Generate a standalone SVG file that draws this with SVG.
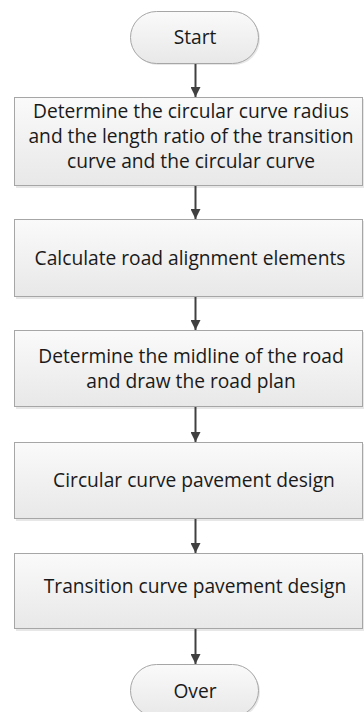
<svg xmlns="http://www.w3.org/2000/svg" width="364" height="712" viewBox="0 0 364 712">
<defs>
<linearGradient id="g" x1="0" y1="0" x2="0" y2="1">
<stop offset="0" stop-color="#fafafa"/>
<stop offset="1" stop-color="#e8e8e8"/>
</linearGradient>
<marker id="ah" viewBox="0 0 10 10" refX="10" refY="5" markerWidth="10" markerHeight="10" markerUnits="userSpaceOnUse" orient="auto">
<path d="M0,0 L10,5 L0,10 z" fill="#404040"/>
</marker>
</defs>
<style>
.shape{fill:url(#g);stroke:#a6a6a6;stroke-width:1}
.shadow{fill:#cfcfcf;opacity:0.5}
text{font-family:"Open Sans","Liberation Sans",sans-serif;font-size:19.2px;fill:#1a1a1a;text-anchor:middle}
.conn line{stroke:#404040;stroke-width:2;marker-end:url(#ah)}
</style>
<g id="start">
<rect class="shadow" x="132" y="13" width="128" height="52" rx="26"/>
<rect class="shape" x="130.5" y="11.5" width="128" height="52" rx="26"/>
<text x="195" y="44">Start</text>
</g>
<g id="step1">
<rect class="shadow" x="16" y="99" width="349" height="89"/>
<rect class="shape" x="14.5" y="97.5" width="348" height="88"/>
<text x="191" y="118">Determine the circular curve radius</text>
<text x="191" y="143">and the length ratio of the transition</text>
<text x="191" y="168">curve and the circular curve</text>
</g>
<g id="step2">
<rect class="shadow" x="16" y="221" width="349" height="78"/>
<rect class="shape" x="14.5" y="219.5" width="348" height="77"/>
<text x="190" y="265">Calculate road alignment elements</text>
</g>
<g id="step3">
<rect class="shadow" x="16" y="332" width="349" height="77"/>
<rect class="shape" x="14.5" y="330.5" width="348" height="76"/>
<text x="191" y="363">Determine the midline of the road</text>
<text x="191" y="388">and draw the road plan</text>
</g>
<g id="step4">
<rect class="shadow" x="16" y="444" width="349" height="77"/>
<rect class="shape" x="14.5" y="442.5" width="348" height="76"/>
<text x="194" y="487">Circular curve pavement design</text>
</g>
<g id="step5">
<rect class="shadow" x="16" y="555" width="349" height="76"/>
<rect class="shape" x="14.5" y="553.5" width="348" height="75"/>
<text x="195" y="593">Transition curve pavement design</text>
</g>
<g id="over">
<rect class="shadow" x="132" y="666" width="128" height="52" rx="26"/>
<rect class="shape" x="130.5" y="664.5" width="128" height="52" rx="26"/>
<text x="195" y="698">Over</text>
</g>
<g id="connectors" class="conn">
<line x1="195.5" y1="64" x2="195.5" y2="97"/>
<line x1="195.5" y1="186" x2="195.5" y2="219"/>
<line x1="195.5" y1="297" x2="195.5" y2="330"/>
<line x1="195.5" y1="407" x2="195.5" y2="442"/>
<line x1="195.5" y1="519" x2="195.5" y2="553"/>
<line x1="195.5" y1="629" x2="195.5" y2="664"/>
</g>
</svg>
